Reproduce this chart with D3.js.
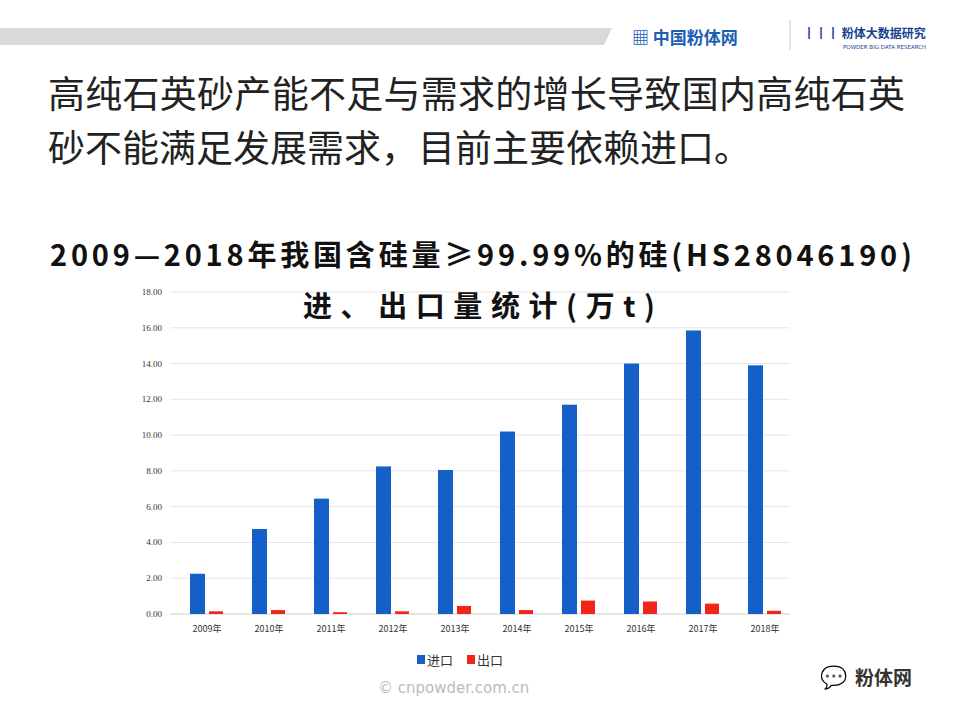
<!DOCTYPE html><html><head><meta charset="utf-8"><script src="https://cdn.jsdelivr.net/npm/d3@7"></script>
<style>body{margin:0;background:#fff}</style></head><body><svg id="c" width="960" height="720"></svg>
<script>
const years=["2009年","2010年","2011年","2012年","2013年","2014年","2015年","2016年","2017年","2018年"];
const imports=[2.25,4.75,6.45,8.25,8.05,10.2,11.7,14.0,15.85,13.9];
const exports=[0.15,0.22,0.1,0.15,0.45,0.22,0.75,0.7,0.58,0.18];
const yTicks=[0,2,4,6,8,10,12,14,16,18];
const svg=d3.select("#c");
const cjk="'Noto Sans CJK SC',sans-serif";
svg.append("path").attr("d","M0,28 L612,28 L604,45 L0,45 Z").attr("fill","#d9d9d9");
svg.append("text").attr("x",632).attr("y",44).attr("font-family",cjk).attr("font-size",17).attr("font-weight","bold").attr("fill","#1a5fb4").text("▦ 中国粉体网");
svg.append("line").attr("x1",790).attr("x2",790).attr("y1",20).attr("y2",50).attr("stroke","#ccc");
svg.append("text").attr("x",803).attr("y",38).attr("font-family",cjk).attr("font-size",12).attr("font-weight","bold").attr("fill","#1a3f8f").text("┃┃┃ 粉体大数据研究");
svg.append("text").attr("x",843).attr("y",49).attr("font-family","DejaVu Sans").attr("font-size",5.5).attr("fill","#1a3f8f").text("POWDER BIG DATA RESEARCH");
const t1=svg.append("g").attr("font-family",cjk).attr("font-size",37).attr("fill","#222");
t1.append("text").attr("x",48).attr("y",108).attr("textLength",857).attr("lengthAdjust","spacing").text("高纯石英砂产能不足与需求的增长导致国内高纯石英");
t1.append("text").attr("x",48).attr("y",162).text("砂不能满足发展需求，目前主要依赖进口。");
const xs=d3.scaleBand().domain(years).range([170,790]);
const y=d3.scaleLinear().domain([0,18]).range([614,292]);
const g=svg.append("g");
yTicks.forEach(t=>{g.append("line").attr("x1",170).attr("x2",790).attr("y1",y(t)).attr("y2",y(t)).attr("stroke",t?"#e6e6e6":"#ccc");
 g.append("text").attr("x",162).attr("y",y(t)+3).attr("text-anchor","end").attr("font-family","Liberation Serif").attr("font-size",9).attr("fill","#333").text(t.toFixed(2));});
g.selectAll(".i").data(years).join("rect").attr("x",d=>xs(d)+20).attr("width",15).attr("y",(d,i)=>y(imports[i])).attr("height",(d,i)=>y(0)-y(imports[i])).attr("fill","#1560c8");
g.selectAll(".e").data(years).join("rect").attr("x",d=>xs(d)+39).attr("width",14).attr("y",(d,i)=>y(exports[i])).attr("height",(d,i)=>y(0)-y(exports[i])).attr("fill","#f0261a");
g.selectAll(".xl").data(years).join("text").attr("x",d=>xs(d)+37).attr("y",632).attr("text-anchor","middle").attr("font-family","'Noto Sans CJK SC',serif").attr("font-size",9).attr("fill","#333").text(d=>d);
const tt=svg.append("g").attr("font-family",cjk).attr("font-weight","bold").attr("font-size",29).attr("fill","#111");
tt.append("text").attr("x",50).attr("y",266).attr("textLength",862).attr("lengthAdjust","spacing").text("2009—2018年我国含硅量≥99.99%的硅(HS28046190)");
tt.append("text").attr("x",303).attr("y",317).attr("textLength",352).attr("lengthAdjust","spacing").text("进、出口量统计(万t)");
const lg=svg.append("g").attr("font-family",cjk).attr("font-size",13).attr("fill","#333");
lg.append("rect").attr("x",417).attr("y",655).attr("width",8).attr("height",9).attr("fill","#1560c8");
lg.append("text").attr("x",427).attr("y",665).text("进口");
lg.append("rect").attr("x",467).attr("y",655).attr("width",8).attr("height",9).attr("fill","#f0261a");
lg.append("text").attr("x",477).attr("y",665).text("出口");
svg.append("text").attr("x",378).attr("y",693).attr("font-family","DejaVu Sans").attr("font-size",15).attr("fill","#bbb").text("© cnpowder.com.cn");
svg.append("text").attr("x",855).attr("y",685).attr("font-family",cjk).attr("font-size",19).attr("font-weight","bold").attr("fill","#333").text("粉体网");
svg.append("text").attr("x",820).attr("y",685).attr("font-size",22).attr("fill","#555").text("💬");
</script></body></html>
